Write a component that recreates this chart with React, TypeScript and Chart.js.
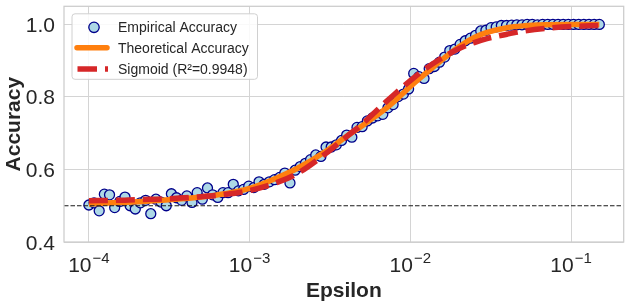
import React, { useEffect, useRef } from 'react';
import { Chart, registerables } from 'chart.js';

Chart.register(...registerables);

// ---------- data ----------
const epsilon = [
  1.000e-4, 1.077e-4, 1.159e-4, 1.248e-4, 1.344e-4, 1.447e-4, 1.558e-4, 1.677e-4, 1.806e-4, 1.944e-4,
  2.093e-4, 2.254e-4, 2.427e-4, 2.613e-4, 2.813e-4, 3.029e-4, 3.261e-4, 3.511e-4, 3.780e-4, 4.070e-4,
  4.382e-4, 4.718e-4, 5.080e-4, 5.469e-4, 5.888e-4, 6.340e-4, 6.826e-4, 7.349e-4, 7.913e-4, 8.519e-4,
  9.172e-4, 9.876e-4, 1.063e-3, 1.145e-3, 1.233e-3, 1.327e-3, 1.429e-3, 1.538e-3, 1.656e-3, 1.783e-3,
  1.920e-3, 2.067e-3, 2.226e-3, 2.396e-3, 2.580e-3, 2.778e-3, 2.991e-3, 3.220e-3, 3.467e-3, 3.733e-3,
  4.019e-3, 4.327e-3, 4.659e-3, 5.016e-3, 5.401e-3, 5.815e-3, 6.261e-3, 6.741e-3, 7.258e-3, 7.814e-3,
  8.413e-3, 9.058e-3, 9.753e-3, 1.050e-2, 1.131e-2, 1.217e-2, 1.311e-2, 1.411e-2, 1.519e-2, 1.636e-2,
  1.761e-2, 1.896e-2, 2.042e-2, 2.198e-2, 2.367e-2, 2.548e-2, 2.743e-2, 2.954e-2, 3.180e-2, 3.424e-2,
  3.686e-2, 3.969e-2, 4.273e-2, 4.601e-2, 4.954e-2, 5.334e-2, 5.742e-2, 6.183e-2, 6.657e-2, 7.167e-2,
  7.717e-2, 8.308e-2, 8.945e-2, 9.631e-2, 0.1037, 0.1116, 0.1202, 0.1294, 0.1393, 0.1500,
];

const empiricalAccuracy = [
  0.502, 0.508, 0.486, 0.532, 0.530, 0.495, 0.512, 0.524, 0.500, 0.491,
  0.508, 0.515, 0.478, 0.518, 0.510, 0.500, 0.533, 0.522, 0.515, 0.527,
  0.509, 0.536, 0.518, 0.549, 0.530, 0.523, 0.536, 0.536, 0.559, 0.541,
  0.545, 0.554, 0.550, 0.566, 0.559, 0.566, 0.572, 0.578, 0.590, 0.563,
  0.598, 0.608, 0.617, 0.627, 0.640, 0.636, 0.662, 0.662, 0.668, 0.680,
  0.695, 0.689, 0.716, 0.718, 0.734, 0.742, 0.748, 0.752, 0.770, 0.779,
  0.801, 0.808, 0.822, 0.865, 0.856, 0.851, 0.878, 0.884, 0.896, 0.910,
  0.928, 0.932, 0.945, 0.955, 0.962, 0.970, 0.982, 0.984, 0.991, 0.993,
  0.997, 0.997, 0.998, 0.999, 0.999, 1.000, 1.000, 0.999, 1.000, 1.000,
  1.000, 1.000, 1.000, 1.000, 1.000, 1.000, 1.000, 1.000, 1.000, 1.000,
];

const curveEpsilon = [
  1e-4, 1.5e-4, 2e-4, 3e-4, 5e-4, 7e-4, 1e-3, 1.5e-3, 2e-3, 3e-3, 4e-3, 5e-3, 6e-3,
  7e-3, 8e-3, 1e-2, 1.2e-2, 1.5e-2, 2e-2, 2.5e-2, 3e-2, 4e-2, 5e-2, 7e-2, 0.1, 0.15,
];
const theoreticalAccuracy = [
  0.505, 0.509, 0.511, 0.516, 0.524, 0.533, 0.548, 0.578, 0.604, 0.651, 0.691, 0.720, 0.745,
  0.767, 0.789, 0.829, 0.859, 0.895, 0.938, 0.964, 0.978, 0.991, 0.996, 0.999, 1.000, 1.000,
];
const sigmoidFit = [
  0.514, 0.515, 0.517, 0.519, 0.525, 0.531, 0.542, 0.565, 0.590, 0.645, 0.690, 0.725, 0.757,
  0.785, 0.808, 0.845, 0.873, 0.902, 0.933, 0.950, 0.961, 0.973, 0.981, 0.989, 0.994, 0.997,
];

const chanceLevel = 0.5;

const xTickValues = [1e-4, 1e-3, 1e-2, 1e-1];
const xTickBase = ['10', '10', '10', '10'];
const xTickExponents = ['\u22124', '\u22123', '\u22122', '\u22121'];
const yTickValues = [0.4, 0.6, 0.8, 1.0];
const yTickLabels = ['0.4', '0.6', '0.8', '1.0'];

const legendLabels = ['Empirical Accuracy', 'Theoretical Accuracy', 'Sigmoid (R\u00b2=0.9948)'];
const xTitle = 'Epsilon';
const yTitle = 'Accuracy';

// ---------- styles ----------
const FONT = '"Liberation Sans", Arial, "DejaVu Sans", sans-serif';
const TEXT = '#262626';
const GRID = '#d4d4d4';
const SPINE = '#cccccc';
const PT_FILL = '#add8e6';
const PT_EDGE = '#00008b';
const ORANGE = '#ff7f0e';
const RED = '#d62728';

const overlay = {
  id: 'overlay',
  afterDatasetsDraw(chart: any) {
    const { ctx, chartArea: a, scales } = chart;
    const y = scales.y.getPixelForValue(chanceLevel);
    ctx.save();
    ctx.beginPath();
    ctx.rect(a.left, a.top, a.right - a.left, a.bottom - a.top);
    ctx.clip();
    ctx.strokeStyle = '#1a1a1a';
    ctx.lineWidth = 1.2;
    ctx.setLineDash([4.5, 2]);
    ctx.beginPath();
    ctx.moveTo(a.left, y);
    ctx.lineTo(a.right, y);
    ctx.stroke();
    ctx.restore();
  },
  afterDraw(chart: any) {
    const { ctx, chartArea: a, scales } = chart;
    ctx.save();
    // frame
    ctx.strokeStyle = SPINE;
    ctx.lineWidth = 1.25;
    ctx.strokeRect(a.left, a.top, a.right - a.left, a.bottom - a.top);

    ctx.fillStyle = TEXT;
    // y tick labels
    ctx.font = `21px ${FONT}`;
    ctx.textAlign = 'right';
    ctx.textBaseline = 'alphabetic';
    yTickValues.forEach((v, i) => {
      const py = scales.y.getPixelForValue(v);
      ctx.fillText(yTickLabels[i], a.left - 9, py + 7.5);
    });
    // x tick labels with superscripts
    ctx.textAlign = 'left';
    xTickValues.forEach((v, i) => {
      const px = scales.x.getPixelForValue(v);
      ctx.font = `21px ${FONT}`;
      const wb = ctx.measureText(xTickBase[i]).width;
      ctx.font = `15px ${FONT}`;
      const we = ctx.measureText(xTickExponents[i]).width;
      const start = px - (wb + we + 1) / 2;
      ctx.font = `21px ${FONT}`;
      ctx.fillText(xTickBase[i], start, a.bottom + 30);
      ctx.font = `15px ${FONT}`;
      ctx.fillText(xTickExponents[i], start + wb + 1, a.bottom + 21);
    });
    // axis titles
    ctx.font = `bold 21px ${FONT}`;
    ctx.textAlign = 'center';
    ctx.fillText(xTitle, (a.left + a.right) / 2, a.bottom + 55);
    ctx.save();
    ctx.translate(a.left - 44, (a.top + a.bottom) / 2);
    ctx.rotate(-Math.PI / 2);
    ctx.fillText(yTitle, 0, 0);
    ctx.restore();

    // legend
    const bx = a.left + 8, by = a.top + 7.5, bw = 185.5, bh = 65.5, r = 3;
    ctx.beginPath();
    ctx.moveTo(bx + r, by);
    ctx.lineTo(bx + bw - r, by);
    ctx.arcTo(bx + bw, by, bx + bw, by + r, r);
    ctx.lineTo(bx + bw, by + bh - r);
    ctx.arcTo(bx + bw, by + bh, bx + bw - r, by + bh, r);
    ctx.lineTo(bx + r, by + bh);
    ctx.arcTo(bx, by + bh, bx, by + bh - r, r);
    ctx.lineTo(bx, by + r);
    ctx.arcTo(bx, by, bx + r, by, r);
    ctx.closePath();
    ctx.fillStyle = 'rgba(255,255,255,0.85)';
    ctx.fill();
    ctx.strokeStyle = '#d0d0d0';
    ctx.lineWidth = 1;
    ctx.stroke();

    const rows = [by + 13, by + 34, by + 55.2];
    // marker
    ctx.beginPath();
    ctx.arc(bx + 22, rows[0] + 0.5, 5.2, 0, Math.PI * 2);
    ctx.fillStyle = PT_FILL;
    ctx.fill();
    ctx.strokeStyle = PT_EDGE;
    ctx.lineWidth = 1.3;
    ctx.stroke();
    // orange
    ctx.strokeStyle = ORANGE;
    ctx.lineWidth = 5.5;
    ctx.lineCap = 'round';
    ctx.beginPath();
    ctx.moveTo(bx + 5, rows[1]);
    ctx.lineTo(bx + 35, rows[1]);
    ctx.stroke();
    // red dashed
    ctx.lineCap = 'butt';
    ctx.strokeStyle = RED;
    ctx.setLineDash([19.5, 8]);
    ctx.beginPath();
    ctx.moveTo(bx + 5.5, rows[2]);
    ctx.lineTo(bx + 36, rows[2]);
    ctx.stroke();
    ctx.setLineDash([]);

    ctx.fillStyle = TEXT;
    ctx.font = `14px ${FONT}`;
    ctx.textAlign = 'left';
    legendLabels.forEach((t, i) => ctx.fillText(t, bx + 46, rows[i] + 5.3));
    ctx.restore();
  },
};

export default function App() {
  const ref = useRef<HTMLCanvasElement | null>(null);

  useEffect(() => {
    if (!ref.current) return;
    const chart = new Chart(ref.current, {
      type: 'scatter',
      data: {
        datasets: [
          {
            type: 'line',
            label: legendLabels[2],
            data: curveEpsilon.map((x, i) => ({ x, y: sigmoidFit[i] })),
            borderColor: RED,
            borderWidth: 5.5,
            borderDash: [19, 8],
            borderCapStyle: 'butt',
            pointRadius: 0,
            cubicInterpolationMode: 'monotone',
            fill: false,
            order: 1,
          } as any,
          {
            type: 'line',
            label: legendLabels[1],
            data: curveEpsilon.map((x, i) => ({ x, y: theoreticalAccuracy[i] })),
            borderColor: ORANGE,
            borderWidth: 5.5,
            borderCapStyle: 'butt',
            pointRadius: 0,
            cubicInterpolationMode: 'monotone',
            fill: false,
            order: 2,
          } as any,
          {
            type: 'scatter',
            label: legendLabels[0],
            data: epsilon.map((x, i) => ({ x, y: empiricalAccuracy[i] })),
            backgroundColor: PT_FILL,
            borderColor: PT_EDGE,
            borderWidth: 1.3,
            pointRadius: 5,
            order: 3,
          } as any,
        ],
      },
      options: {
        responsive: false,
        devicePixelRatio: 1,
        animation: false,
        layout: { padding: { left: 64, right: 3, top: 2, bottom: 62 } },
        plugins: { legend: { display: false }, tooltip: { enabled: false } },
        scales: {
          x: {
            type: 'logarithmic',
            min: 7.0e-5,
            max: 0.2127,
            afterBuildTicks: (s: any) => {
              s.ticks = xTickValues.map((value) => ({ value }));
            },
            ticks: { display: false },
            grid: { color: GRID, lineWidth: 1, drawTicks: false },
            border: { display: false },
          },
          y: {
            type: 'linear',
            min: 0.4,
            max: 1.05,
            afterBuildTicks: (s: any) => {
              s.ticks = yTickValues.map((value) => ({ value }));
            },
            ticks: { display: false },
            grid: { color: GRID, lineWidth: 1, drawTicks: false },
            border: { display: false },
          },
        },
      } as any,
      plugins: [overlay],
    });
    return () => chart.destroy();
  }, []);

  return (
    <div style={{ position: 'fixed', left: 0, top: 0, width: 630, height: 304, background: '#fff' }}>
      <canvas ref={ref} width={630} height={304} style={{ display: 'block', width: 630, height: 304 }} />
    </div>
  );
}
